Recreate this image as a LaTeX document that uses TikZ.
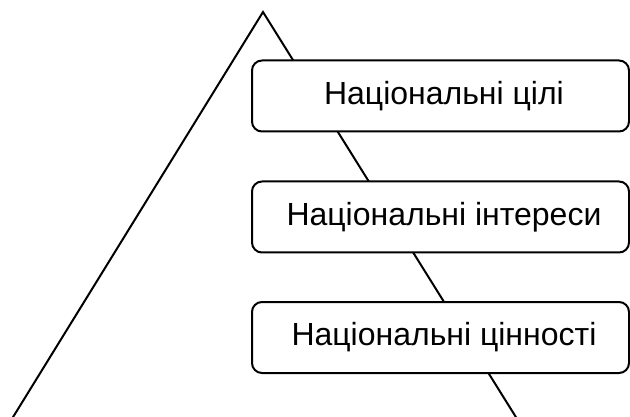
\documentclass[tikz,border=0pt]{standalone}
\usepackage{fontspec}
\setmainfont{Liberation Sans}
\begin{document}
\begin{tikzpicture}[x=1pt,y=-1pt,line width=2pt,
  box/.style={draw=black, fill=white, rounded corners=10pt,
    minimum width=377pt, minimum height=71pt, inner sep=0pt},
  txt/.style={inner sep=0pt, font=\fontsize{32}{38}\selectfont}]
\useasboundingbox (0,0) rectangle (630,417);
\clip (0,0) rectangle (630,417);
\coordinate (apex) at (263,12);
\coordinate (bl) at (10,422);
\coordinate (br) at (519,422);
\draw (bl) -- (apex) -- (br);
\node[box] (goals) at (440.5,96) {};
\node[box] (interests) at (440.5,217) {};
\node[box] (values) at (440.5,337.5) {};
\node[txt] (goalsT) at ([xshift=3.5pt]goals.center) {Національні цілі};
\node[txt] (interestsT) at ([xshift=3.5pt]interests.center) {Національні інтереси};
\node[txt] (valuesT) at ([xshift=3.5pt]values.center) {Національні цінності};
\end{tikzpicture}
\end{document}
